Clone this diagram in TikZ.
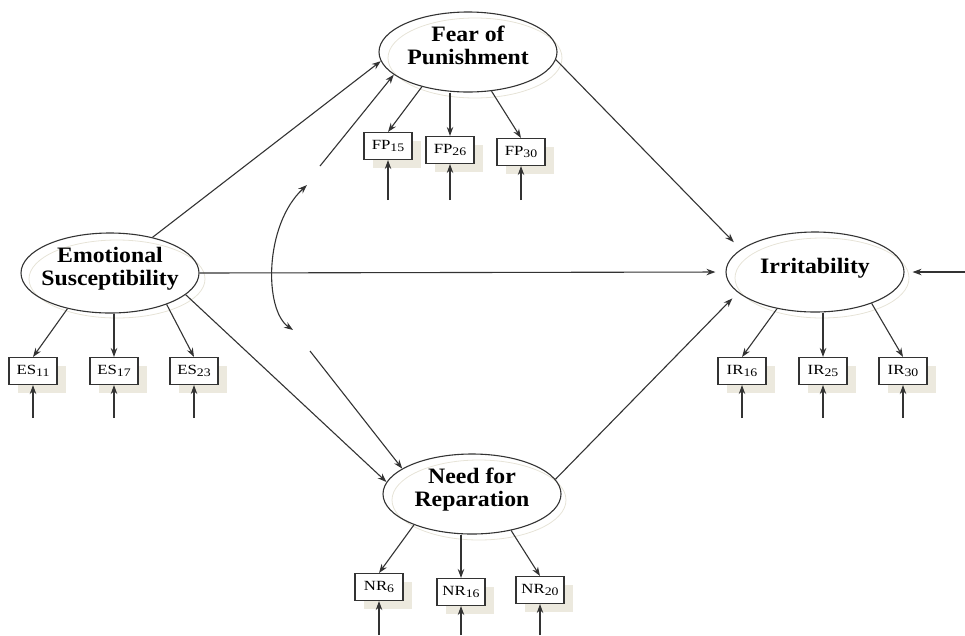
\documentclass[tikz,border=0pt]{standalone}
\usepackage{fontspec}
\setmainfont{Liberation Serif}
\newfontfamily\latfont[FakeStretch=1.08]{Liberation Serif}
\newfontfamily\obsfont[FakeStretch=1.2]{Liberation Serif}
\usetikzlibrary{shapes.geometric,shadows,arrows.meta}
\definecolor{linegray}{HTML}{333333}
\definecolor{shadeline}{HTML}{E6E3D7}
\definecolor{shadefill}{HTML}{ECE9DE}
\newcommand\lowsub[1]{\raisebox{-2.5pt}{\fontsize{11.5}{11.5}\selectfont #1}}
\begin{document}
\begin{tikzpicture}[x=1pt,y=-1pt,->,>={Stealth[length=9pt,width=6.5pt]},line width=1.1pt,color=linegray,
    latent/.style={ellipse,draw,minimum width=178pt,minimum height=80pt,inner sep=-6pt,
        align=center,text=black,text depth=13pt,font=\latfont\bfseries\fontsize{22}{23}\selectfont},
    latshade/.style={-,shadeline,line width=0.8pt},
    obs/.style={draw,fill=white,text=black,minimum width=48pt,minimum height=27pt,inner sep=1pt,
        font=\obsfont\fontsize{14}{14}\selectfont,
        drop shadow={shadow xshift=9pt,shadow yshift=-8pt,fill=shadefill,opacity=1}}]
    \useasboundingbox (0,0) rectangle (965,635);
    \draw[latshade] (475,58) ellipse (87 and 40);
    \draw[latshade] (117,279) ellipse (88 and 39);
    \draw[latshade] (822,278) ellipse (87 and 40);
    \draw[latshade] (479,500) ellipse (87 and 40);
    \node[latent] (fp) at (468,52) {Fear of\\Punishment};
    \node[latent] (es) at (110,273) {Emotional\\Susceptibility};
    \node[latent] (ir) at (815,272) {Irritability};
    \node[latent] (nr) at (472,494) {Need for\\Reparation};
    \node[obs] (fp15) at (388,146) {FP\lowsub{15}};
    \node[obs] (fp26) at (450,150) {FP\lowsub{26}};
    \node[obs] (fp30) at (521,152) {FP\lowsub{30}};
    \node[obs] (es11) at (33,371) {ES\lowsub{11}};
    \node[obs] (es17) at (114,371) {ES\lowsub{17}};
    \node[obs] (es23) at (194,371) {ES\lowsub{23}};
    \node[obs] (ir16) at (742,371) {IR\lowsub{16}};
    \node[obs] (ir25) at (823,371) {IR\lowsub{25}};
    \node[obs] (ir30) at (903,371) {IR\lowsub{30}};
    \node[obs] (nr6) at (379,587) {NR\lowsub{6}};
    \node[obs] (nr16) at (461,592) {NR\lowsub{16}};
    \node[obs] (nr20) at (540,590) {NR\lowsub{20}};
    \coordinate (fpin) at (320,166);
    \coordinate (nrin) at (310,351);
    \coordinate (irin) at (965,272);
    \coordinate (cvtop) at (307,185);
    \coordinate (cvbot) at (293,330);
    \draw (fp.217) -- (fp15.north);
    \draw (fp26 |- fp.south) -- (fp26.north);
    \draw (fp.301) -- (fp30.north);
    \draw (es.220) -- (es11.north);
    \draw (es17 |- es.south) -- (es17.north);
    \draw (es.331) -- (es23.north);
    \draw (ir.224) -- (ir16.north);
    \draw (ir25 |- ir.south) -- (ir25.north);
    \draw (ir.331) -- (ir30.north);
    \draw (nr.208) -- (nr6.north);
    \draw (nr16 |- nr.south) -- (nr16.north);
    \draw (nr.317) -- (nr20.north);
    \foreach \b/\y in {fp15/200,fp26/200,fp30/200,es11/418,es17/418,es23/418,ir16/418,ir25/418,ir30/418,nr6/635,nr16/635,nr20/635}
        {\coordinate (e\b) at (\b.south |- 0,\y);
         \draw (e\b) -- (\b.south);}
    \draw (es.40) -- (fp.186);
    \draw (fpin) -- (fp.197);
    \draw[shorten >=10pt] (es.east) -- (ir.west);
    \draw (es.344) -- (nr.172);
    \draw (nrin) -- (nr.160);
    \draw[shorten >=10pt] (fp.355) -- (ir.163);
    \draw[shorten >=8pt] (nr.10) -- (ir.195);
    \draw[shorten >=8pt] (irin) -- (ir.east);
    \draw[<->] (cvtop) .. controls (264,225) and (264,310) .. (cvbot);
\end{tikzpicture}
\end{document}
